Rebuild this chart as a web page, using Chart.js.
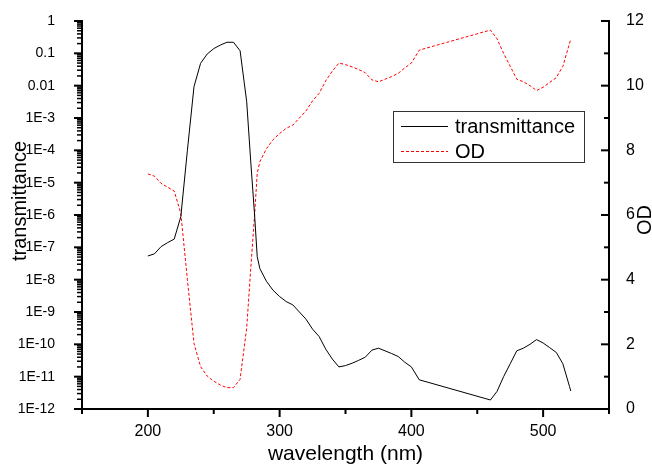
<!DOCTYPE html>
<html>
<head>
<meta charset="utf-8">
<script src="https://cdn.jsdelivr.net/npm/chart.js@4"></script>
<style>
  body { margin: 0; background: #fff; }
  #wrap { width: 652px; height: 472px; }
</style>
</head>
<body>
<div id="wrap"><canvas id="spectrum"></canvas></div>
<script>
// values
var wavelength = [200, 205, 210, 215, 220, 225, 230, 235, 240, 245, 250, 255, 260, 265, 270, 275, 278, 281, 283, 285,
    290, 295, 300, 305, 310, 315, 320, 325, 330, 335, 340, 345, 350, 355, 360, 365, 370, 375, 380, 385,
    390, 395, 400, 406, 460, 465, 470, 475, 480, 485, 490, 495, 500, 505, 510, 515, 520, 521];
var transmittance = [5.4e-8, 6.3e-8, 1.05e-7, 1.4e-7, 1.8e-7, 8.9e-7, 1e-4, 9.3e-3, 0.049, 0.095, 0.14, 0.18, 0.22, 0.22, 0.12, 3.2e-3, 5e-5, 1e-6, 5.1e-8, 2.2e-8,
    8.9e-9, 4.7e-9, 3e-9, 2.1e-9, 1.66e-9, 1e-9, 6e-10, 2.95e-10, 1.74e-10, 7.1e-11, 3.5e-11, 2e-11, 2.2e-11, 2.6e-11, 3.2e-11, 4e-11, 6.6e-11, 7.6e-11, 6.3e-11, 5.2e-11,
    4.2e-11, 2.8e-11, 2e-11, 8e-12, 1.9e-12, 3.5e-12, 1e-11, 2.5e-11, 6.3e-11, 7.6e-11, 1e-10, 1.4e-10, 1.1e-10, 7.9e-11, 5.6e-11, 2.5e-11, 5e-12, 3.6e-12];
var od = [7.27, 7.2, 6.98, 6.86, 6.74, 6.05, 4.0, 2.03, 1.31, 1.02, 0.86, 0.74, 0.66, 0.66, 0.92, 2.5, 4.3, 6.0, 7.29, 7.65,
    8.05, 8.33, 8.52, 8.68, 8.78, 9.0, 9.22, 9.53, 9.76, 10.15, 10.45, 10.7, 10.65, 10.58, 10.5, 10.4, 10.18, 10.12, 10.2, 10.28,
    10.38, 10.55, 10.7, 11.1, 11.72, 11.45, 11.0, 10.6, 10.2, 10.12, 10.0, 9.85, 9.95, 10.1, 10.25, 10.6, 11.3, 11.44];

var xMajor = [200, 300, 400, 500];
var xMinor = [150, 250, 350, 450, 550];
var tDecades = [1e-12, 1e-11, 1e-10, 1e-9, 1e-8, 1e-7, 1e-6, 1e-5, 1e-4, 1e-3, 0.01, 0.1, 1];
var tLabels = ['1E-12', '1E-11', '1E-10', '1E-9', '1E-8', '1E-7', '1E-6', '1E-5', '1E-4', '1E-3', '0.01', '0.1', '1'];
var odMajor = [0, 2, 4, 6, 8, 10, 12];
var odMinor = [1, 3, 5, 7, 9, 11];

Chart.defaults.font.family = '"Liberation Sans", Arial, sans-serif';
Chart.defaults.color = '#000';

function pts(ys) {
    return wavelength.map(function(x, i) { return { x: x, y: ys[i] }; });
}

function noPad(s) {
    s.paddingTop = 0; s.paddingBottom = 0; s.paddingLeft = 0; s.paddingRight = 0;
}

// tick marks, axis titles and the boxed legend
var decor = {
    id: 'decor',
    afterDraw: function(chart) {
        var ctx = chart.ctx, a = chart.chartArea;
        var sx = chart.scales.x, sy = chart.scales.y, s2 = chart.scales.y2;
        ctx.save();
        ctx.fillStyle = '#000';
        xMajor.forEach(function(v) { ctx.fillRect(sx.getPixelForValue(v) - 1, a.bottom, 2, 8); });
        xMinor.forEach(function(v) { ctx.fillRect(sx.getPixelForValue(v) - 1, a.bottom, 2, 5); });
        tDecades.forEach(function(d, i) {
            ctx.fillRect(a.left - 8, sy.getPixelForValue(d) - 1, 8, 2);
            if (i < tDecades.length - 1) {
                for (var k = 2; k <= 9; k++) {
                    ctx.fillRect(a.left - 5, sy.getPixelForValue(d * k) - 0.75, 5, 1.5);
                }
            }
        });
        odMajor.forEach(function(v) { ctx.fillRect(a.right - 8, s2.getPixelForValue(v) - 1, 8, 2); });
        odMinor.forEach(function(v) { ctx.fillRect(a.right - 5, s2.getPixelForValue(v) - 1, 5, 2); });

        ctx.font = '21px "Liberation Sans", Arial';
        ctx.textAlign = 'center';
        ctx.textBaseline = 'alphabetic';
        ctx.fillText('wavelength (nm)', (a.left + a.right) / 2, 460);

        ctx.font = '20px "Liberation Sans", Arial';
        ctx.save();
        ctx.translate(26, 201);
        ctx.rotate(-Math.PI / 2);
        ctx.fillText('transmittance', 0, 0);
        ctx.restore();
        ctx.save();
        ctx.translate(651, 220);
        ctx.rotate(-Math.PI / 2);
        ctx.fillText('OD', 0, 0);
        ctx.restore();

        // legend
        ctx.fillStyle = '#fff';
        ctx.fillRect(393, 111, 191, 51);
        ctx.strokeStyle = '#333';
        ctx.lineWidth = 1;
        ctx.strokeRect(393.5, 111.5, 191, 51);
        ctx.textAlign = 'left';
        ctx.textBaseline = 'middle';
        ctx.fillStyle = '#000';
        chart.data.datasets.forEach(function(ds, i) {
            var y = 126 + i * 25;
            ctx.strokeStyle = ds.borderColor;
            ctx.lineWidth = 1;
            ctx.setLineDash(ds.borderDash || []);
            ctx.beginPath();
            ctx.moveTo(401, y + 0.5); ctx.lineTo(448, y + 0.5);
            ctx.stroke();
            ctx.setLineDash([]);
            ctx.fillText(ds.label, 455, y + 1);
        });
        ctx.restore();
    }
};

var ctx = document.getElementById('spectrum').getContext('2d');
new Chart(ctx, {
    type: 'line',
    data: {
        datasets: [{
            label: 'transmittance',
            data: pts(transmittance),
            yAxisID: 'y',
            borderColor: '#000000',
            borderWidth: 1,
            pointRadius: 0,
            tension: 0
        }, {
            label: 'OD',
            data: pts(od),
            yAxisID: 'y2',
            borderColor: '#ff0000',
            borderWidth: 1,
            borderDash: [3, 2],
            pointRadius: 0,
            tension: 0
        }]
    },
    options: {
        responsive: true,
        maintainAspectRatio: false,
        animation: false,
        layout: { padding: { top: 21, left: 0, right: 0, bottom: 0 } },
        plugins: {
            legend: { display: false },
            tooltip: { enabled: false }
        },
        scales: {
            x: {
                type: 'linear',
                min: 150,
                max: 550,
                grid: { display: false },
                border: { display: true, color: '#000', width: 2 },
                afterBuildTicks: function(s) { s.ticks = xMajor.map(function(v) { return { value: v }; }); },
                afterFit: function(s) { s.height = 63; noPad(s); },
                ticks: { font: { size: 16 }, padding: 5, maxRotation: 0 }
            },
            y: {
                type: 'logarithmic',
                position: 'left',
                min: 1e-12,
                max: 1,
                grid: { display: false },
                border: { display: true, color: '#000', width: 2 },
                afterBuildTicks: function(s) { s.ticks = tDecades.map(function(v) { return { value: v }; }); },
                afterFit: function(s) { s.width = 82; noPad(s); },
                ticks: {
                    font: { size: 14 },
                    padding: 19,
                    callback: function(v) {
                        var i = tDecades.findIndex(function(d) { return Math.abs(Math.log10(d) - Math.log10(v)) < 1e-6; });
                        return i >= 0 ? tLabels[i] : '';
                    }
                }
            },
            y2: {
                type: 'linear',
                position: 'right',
                min: 0,
                max: 12,
                grid: { display: false },
                border: { display: true, color: '#000', width: 2 },
                afterBuildTicks: function(s) { s.ticks = odMajor.map(function(v) { return { value: v }; }); },
                afterFit: function(s) { s.width = 43; noPad(s); },
                ticks: { font: { size: 16 }, padding: 9 }
            }
        }
    },
    plugins: [decor]
});
</script>
</body>
</html>
